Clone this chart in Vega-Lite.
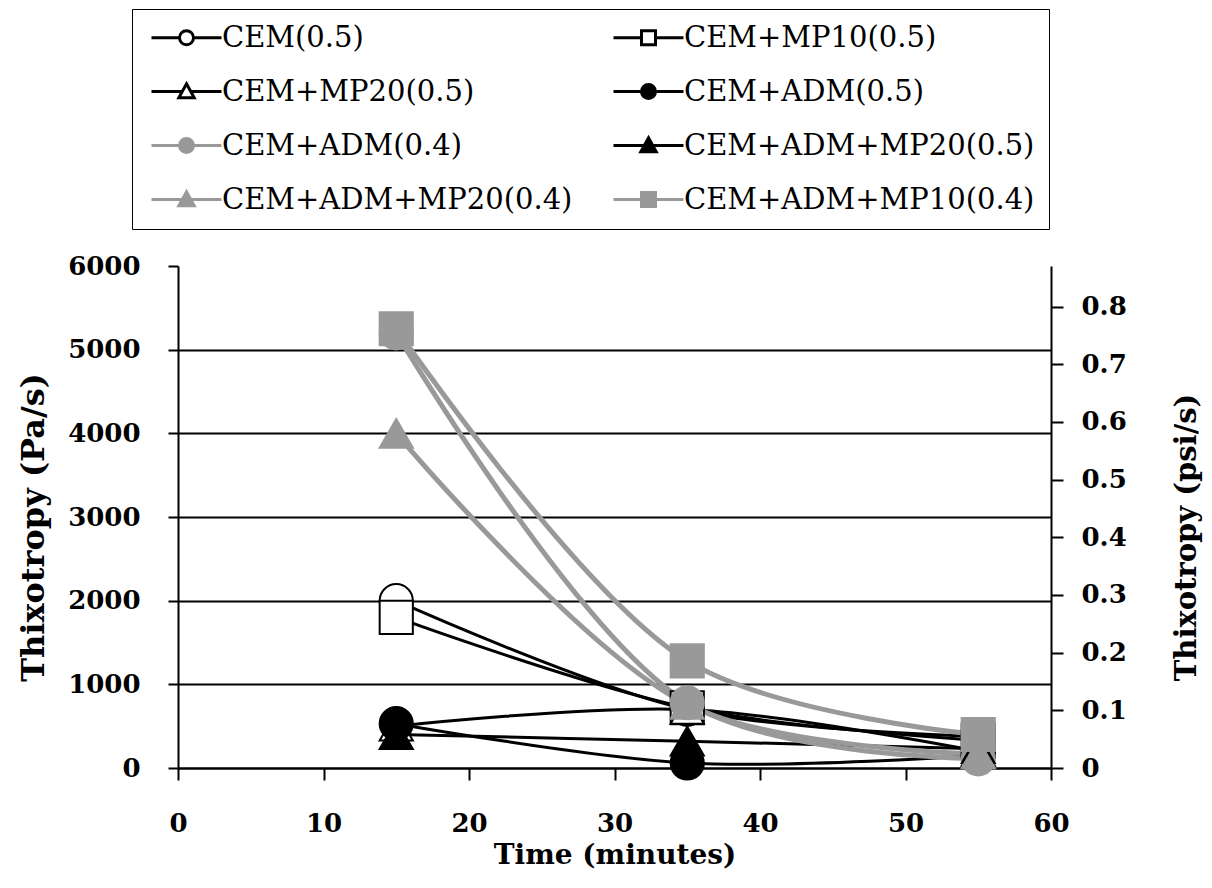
{
  "$schema": "https://vega.github.io/schema/vega-lite/v6.json",
  "width": 873,
  "height": 502,
  "autosize": {"type": "none"},
  "padding": {"left": 178, "top": 266, "right": 161, "bottom": 120},
  "background": "white",
  "config": {"view": {"stroke": null}, "font": "DejaVu Serif"},
  "data": {
    "values": [
      {"s": "CEM(0.5)", "t": 15, "v": 2000},
      {"s": "CEM(0.5)", "t": 35, "v": 700},
      {"s": "CEM(0.5)", "t": 55, "v": 380},
      {"s": "CEM+MP10(0.5)", "t": 15, "v": 1800},
      {"s": "CEM+MP10(0.5)", "t": 35, "v": 720},
      {"s": "CEM+MP10(0.5)", "t": 55, "v": 330},
      {"s": "CEM+MP20(0.5)", "t": 15, "v": 500},
      {"s": "CEM+MP20(0.5)", "t": 35, "v": 700},
      {"s": "CEM+MP20(0.5)", "t": 55, "v": 200},
      {"s": "CEM+ADM(0.5)", "t": 15, "v": 530},
      {"s": "CEM+ADM(0.5)", "t": 35, "v": 60},
      {"s": "CEM+ADM(0.5)", "t": 55, "v": 150},
      {"s": "CEM+ADM(0.4)", "t": 15, "v": 5200},
      {"s": "CEM+ADM(0.4)", "t": 35, "v": 780},
      {"s": "CEM+ADM(0.4)", "t": 55, "v": 110},
      {"s": "CEM+ADM+MP20(0.5)", "t": 15, "v": 400},
      {"s": "CEM+ADM+MP20(0.5)", "t": 35, "v": 320},
      {"s": "CEM+ADM+MP20(0.5)", "t": 55, "v": 230},
      {"s": "CEM+ADM+MP20(0.4)", "t": 15, "v": 4000},
      {"s": "CEM+ADM+MP20(0.4)", "t": 35, "v": 760},
      {"s": "CEM+ADM+MP20(0.4)", "t": 55, "v": 170},
      {"s": "CEM+ADM+MP10(0.4)", "t": 15, "v": 5250},
      {"s": "CEM+ADM+MP10(0.4)", "t": 35, "v": 1280},
      {"s": "CEM+ADM+MP10(0.4)", "t": 55, "v": 400}
    ]
  },
  "layer": [
    {
      "encoding": {
        "x": {
          "field": "t", "type": "quantitative",
          "scale": {"domain": [0, 60], "nice": false},
          "axis": {
            "values": [0, 10, 20, 30, 40, 50, 60],
            "title": "Time (minutes)", "grid": false,
            "domainColor": "black", "domainWidth": 2,
            "tickColor": "black", "tickWidth": 2, "tickSize": 12,
            "labelFont": "DejaVu Serif", "labelFontWeight": "bold", "labelFontSize": 26, "labelColor": "black",
            "labelPadding": 30, "labelFlush": false, "labelOverlap": false,
            "titleFont": "DejaVu Serif", "titleFontSize": 28, "titleFontWeight": "bold", "titleColor": "black",
            "titlePadding": 5
          }
        },
        "y": {
          "field": "v", "type": "quantitative",
          "scale": {"domain": [0, 6000], "nice": false},
          "axis": {
            "values": [0, 1000, 2000, 3000, 4000, 5000, 6000],
            "format": "d",
            "title": "Thixotropy (Pa/s)",
            "grid": true, "gridColor": "black", "gridWidth": 2,
            "gridOpacity": {"condition": {"test": "datum.value == 6000", "value": 0}, "value": 1},
            "domainColor": "black", "domainWidth": 2,
            "tickColor": "black", "tickWidth": 2, "tickSize": 10,
            "labelFont": "DejaVu Serif", "labelFontWeight": "bold", "labelFontSize": 26, "labelColor": "black",
            "labelPadding": 28, "labelOverlap": false,
            "titleFont": "DejaVu Serif", "titleFontSize": 32, "titleFontWeight": "bold", "titleColor": "black",
            "titlePadding": 17, "titleY": 261
          }
        }
      },
      "layer": [
        {
          "transform": [{"filter": {"field": "s", "oneOf": ["CEM(0.5)", "CEM+MP10(0.5)", "CEM+MP20(0.5)", "CEM+ADM(0.5)", "CEM+ADM+MP20(0.5)"]}}],
          "mark": {"type": "line", "interpolate": "catmull-rom", "stroke": "black", "strokeWidth": 3},
          "encoding": {"detail": {"field": "s"}}
        },
        {
          "transform": [{"filter": {"field": "s", "oneOf": ["CEM+ADM(0.4)", "CEM+ADM+MP20(0.4)", "CEM+ADM+MP10(0.4)"]}}],
          "mark": {"type": "line", "interpolate": "catmull-rom", "stroke": "#999999", "strokeWidth": 5},
          "encoding": {"detail": {"field": "s"}}
        },
        {
          "mark": {"type": "point", "size": 1100, "strokeWidth": 2, "opacity": 1},
          "encoding": {
            "shape": {
              "field": "s", "type": "nominal", "legend": null,
              "scale": {
                "domain": ["CEM(0.5)", "CEM+MP10(0.5)", "CEM+MP20(0.5)", "CEM+ADM(0.5)", "CEM+ADM(0.4)", "CEM+ADM+MP20(0.5)", "CEM+ADM+MP20(0.4)", "CEM+ADM+MP10(0.4)"],
                "range": ["circle", "square", "triangle-up", "circle", "circle", "triangle-up", "triangle-up", "square"]
              }
            },
            "fill": {
              "field": "s", "type": "nominal", "legend": null,
              "scale": {
                "domain": ["CEM(0.5)", "CEM+MP10(0.5)", "CEM+MP20(0.5)", "CEM+ADM(0.5)", "CEM+ADM(0.4)", "CEM+ADM+MP20(0.5)", "CEM+ADM+MP20(0.4)", "CEM+ADM+MP10(0.4)"],
                "range": ["white", "white", "white", "black", "#999999", "black", "#999999", "#999999"]
              }
            },
            "stroke": {
              "field": "s", "type": "nominal", "legend": null,
              "scale": {
                "domain": ["CEM(0.5)", "CEM+MP10(0.5)", "CEM+MP20(0.5)", "CEM+ADM(0.5)", "CEM+ADM(0.4)", "CEM+ADM+MP20(0.5)", "CEM+ADM+MP20(0.4)", "CEM+ADM+MP10(0.4)"],
                "range": ["black", "black", "black", "black", "#999999", "black", "#999999", "#999999"]
              }
            }
          }
        },
        {
          "transform": [{"filter": {"field": "s", "equal": "none"}}],
          "mark": {"type": "point", "strokeWidth": 3, "opacity": 1},
          "encoding": {
            "shape": {
              "field": "s", "type": "nominal",
              "scale": {
                "domain": ["CEM(0.5)", "CEM+MP20(0.5)", "CEM+ADM(0.4)", "CEM+ADM+MP20(0.4)", "CEM+MP10(0.5)", "CEM+ADM(0.5)", "CEM+ADM+MP20(0.5)", "CEM+ADM+MP10(0.4)"],
                "range": [
                  "M-5,0H-1M1,0H5M-1,0A1,1 0 1,0 1,0A1,1 0 1,0 -1,0Z",
                  "M-5,0H-0.6M0.6,0H5M0,-1.1L1.1,0.9H-1.1Z",
                  "M-5,0H-1M1,0H5M-1,0A1,1 0 1,0 1,0A1,1 0 1,0 -1,0Z",
                  "M-5,0H-0.6M0.6,0H5M0,-1.1L1.1,0.9H-1.1Z",
                  "M-5,0H-1M1,0H5M-1,-1H1V1H-1Z",
                  "M-5,0H-1M1,0H5M-1,0A1,1 0 1,0 1,0A1,1 0 1,0 -1,0Z",
                  "M-5,0H-0.6M0.6,0H5M0,-1.1L1.1,0.9H-1.1Z",
                  "M-5,0H-1M1,0H5M-1,-1H1V1H-1Z"
                ]
              },
              "legend": {
                "title": null, "orient": "none", "legendX": -46, "legendY": -257,
                "columns": 2, "columnPadding": 34, "rowPadding": 24,
                "padding": 14, "strokeColor": "black", "fillColor": "white",
                "symbolSize": 196, "symbolStrokeWidth": 3, "symbolOffset": 26, "symbolOpacity": 1,
                "labelOffset": 21, "labelFont": "DejaVu Serif", "labelFontSize": 29, "labelColor": "black", "labelLimit": 600,
                "encode": {"legend": {"update": {"strokeWidth": {"value": 2}}}}
              }
            },
            "fill": {
              "field": "s", "type": "nominal",
              "scale": {
                "domain": ["CEM(0.5)", "CEM+MP20(0.5)", "CEM+ADM(0.4)", "CEM+ADM+MP20(0.4)", "CEM+MP10(0.5)", "CEM+ADM(0.5)", "CEM+ADM+MP20(0.5)", "CEM+ADM+MP10(0.4)"],
                "range": ["white", "white", "#999999", "#999999", "white", "black", "black", "#999999"]
              }
            },
            "stroke": {
              "field": "s", "type": "nominal",
              "scale": {
                "domain": ["CEM(0.5)", "CEM+MP20(0.5)", "CEM+ADM(0.4)", "CEM+ADM+MP20(0.4)", "CEM+MP10(0.5)", "CEM+ADM(0.5)", "CEM+ADM+MP20(0.5)", "CEM+ADM+MP10(0.4)"],
                "range": ["black", "black", "#999999", "#999999", "black", "black", "black", "#999999"]
              }
            }
          }
        }
      ],
      "resolve": {"scale": {"shape": "independent", "fill": "independent", "stroke": "independent"}}
    },
    {
      "transform": [{"filter": {"field": "s", "equal": "none"}}],
      "mark": {"type": "point"},
      "encoding": {
        "y": {
          "field": "v", "type": "quantitative",
          "scale": {"domain": [0, 0.87023], "nice": false},
          "axis": {
            "orient": "right",
            "values": [0, 0.1, 0.2, 0.3, 0.4, 0.5, 0.6, 0.7, 0.8],
            "labelExpr": "datum.value == 0 ? '0' : format(datum.value, '.1f')",
            "title": "Thixotropy (psi/s)", "grid": false,
            "domainColor": "black", "domainWidth": 2,
            "tickColor": "black", "tickWidth": 2, "tickSize": 12,
            "labelFont": "DejaVu Serif", "labelFontWeight": "bold", "labelFontSize": 26, "labelColor": "black",
            "labelPadding": 18, "labelOverlap": false,
            "titleFont": "DejaVu Serif", "titleFontSize": 29, "titleFontWeight": "bold", "titleColor": "black",
            "titleAngle": 270, "titleBaseline": "top", "titlePadding": 46, "titleY": 271
          }
        }
      }
    }
  ],
  "resolve": {"scale": {"y": "independent"}}
}
